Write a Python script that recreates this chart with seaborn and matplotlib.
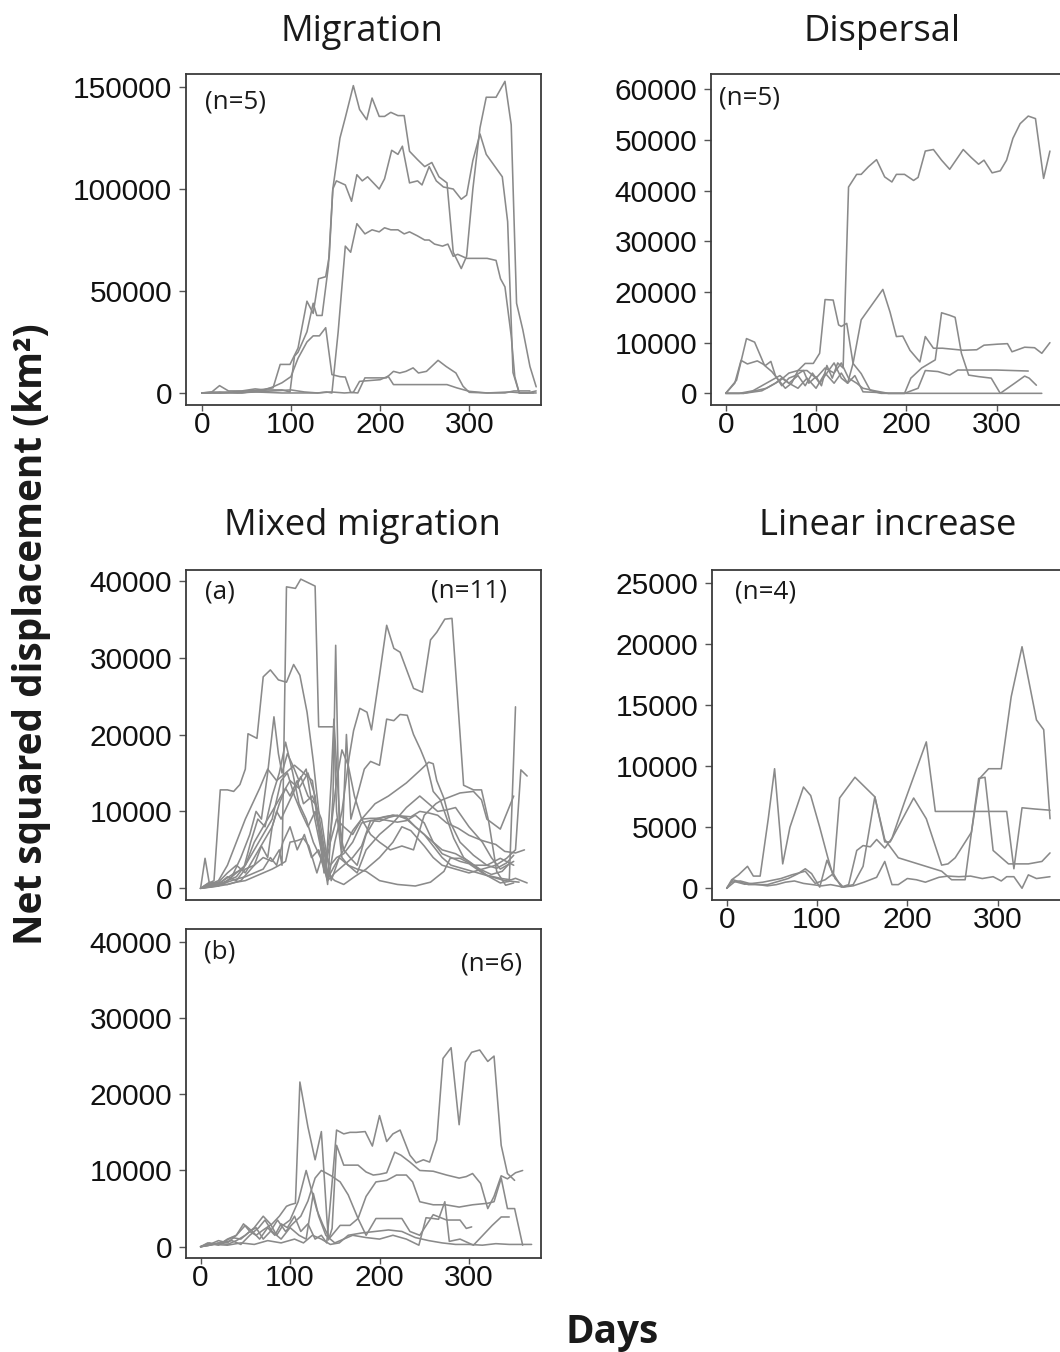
import matplotlib
matplotlib.use("Agg")
import matplotlib.pyplot as plt
import numpy as np
import pandas as pd
import seaborn as sns

# ---------------- data (days, NSD in thousands of km^2) ----------------
# Migration (n=5)
mig_1 = [(0,0),(10,0.5),(20,0),(35,0.5),(50,1),(65,1.5),(80,2.5),(88,14),(99,14),(108,22),(118,45),(125,39),(131,56),(139,57),(143,67),(147,100),(155,125),(161,135),(170,150.7),(177,139),(185,134),(191,144.6),(199,135.6),(205,135.6),(212,137.6),(220,136),(227,136),(233,118.5),(242,114.4),(250,111),(258,113),(266,106),(275,103),(282,69),(291,61),(297,67),(304,100),(312,130),(319,145),(330,145),(340,152.8),(347,131.5),(353,44),(360,31),(368,13),(375,3)]
mig_2 = [(0,0),(15,0),(30,0.3),(45,0),(60,1),(75,1.5),(90,1.5),(99,0.5),(104,18),(108,20),(118,30),(125,44),(129,38),(135,38),(142,62),(147,100),(151,104),(161,102),(168,94),(174,107),(180,104),(186,106),(199,100),(205,105),(213,119),(220,117),(225,121),(233,103),(242,104),(247,102),(255,111),(263,104),(271,101),(282,100),(291,95),(297,97),(304,114),(312,127),(319,117),(337,106),(343,84),(349,10),(356,0),(368,0),(375,0)]
mig_3 = [(0,0),(30,0),(60,0.5),(90,0),(110,0),(130,0),(140,0.5),(146,0),(153,30),(161,72),(167,69),(174,83),(183,78),(191,80),(199,79),(205,81),(212,80),(220,80),(227,78),(233,79),(242,77),(250,75),(255,75),(261,73),(270,72),(276,73),(282,67),(287,68),(297,66),(320,66),(330,65),(335,56),(340,52),(347,28),(351,8),(356,0),(365,0),(375,1)]
mig_4 = [(0,0),(10,0),(20,3.6),(30,1),(45,1),(60,2),(70,1.5),(80,3),(90,5),(100,8),(108,17),(118,25),(125,28),(132,28),(139,32),(146,9),(155,8),(161,7.8),(167,0.3),(175,0),(183,7.4),(207,7.4),(215,10.6),(222,9.8),(229,10.6),(237,12.3),(243,9.8),(252,10.6),(265,16),(274,13),(285,9.8),(293,3.3),(300,0.3),(320,0),(340,0),(350,1),(368,1)]
mig_5 = [(0,0),(20,0.5),(40,0),(60,0.5),(80,1),(100,1.5),(115,0.5),(130,0),(145,0.5),(160,0),(170,0.3),(177,5.7),(200,6.5),(209,8.2),(215,4.1),(240,4.1),(260,4.1),(275,4.1),(286,2.5),(300,0.8),(320,0),(345,0.5),(360,0),(372,0)]

# Dispersal (n=5)
dis_1 = [(0,0),(10,2),(17,6.5),(24,5.8),(35,6.4),(44,5.5),(50,6.3),(55,3.5),(62,1.5),(70,3),(77,3.5),(86,4.5),(92,2),(100,3.3),(106,1.5),(112,5.5),(118,3),(124,6),(130,5),(136,40.7),(145,43.2),(150,43.2),(158,44.7),(167,46.1),(176,42.7),(184,41.7),(189,43.2),(198,43.2),(208,42),(213,42.6),(221,47.8),(230,48.1),(239,46),(248,44.2),(263,48.1),(272,46.5),(280,45.2),(286,46),(295,43.5),(304,43.9),(311,46),(318,50.3),(326,53.2),(335,54.7),(343,54.2),(352,42.4),(359,47.8)]
dis_2 = [(0,0),(12,2.6),(23,10.8),(32,10.1),(43,5.5),(51,4.3),(60,2.3),(66,1),(73,2),(80,4.5),(88,5.9),(97,5.9),(104,7.9),(110,18.5),(119,18.4),(125,13.5),(128,13.2),(134,13.8),(141,5.9),(150,3.9),(160,0.6),(172,0),(190,0),(210,0),(240,0),(270,0),(300,0),(330,0),(350,0)]
dis_3 = [(0,0),(15,0),(30,0.5),(45,2),(60,3.5),(70,2),(80,1),(90,3),(100,1),(110,4),(120,2),(128,4),(135,2),(141,5.9),(150,14.5),(158,16.5),(168,19),(174,20.5),(182,16),(189,11.2),(196,11.3),(204,8.5),(215,6.2),(221,11.2),(230,8.9),(240,8.9),(263,8.5),(278,8.6),(286,9.5),(301,9.7),(312,9.8),(317,8.2),(331,9.1),(342,9),(350,7.9),(359,10)]
dis_4 = [(0,0),(20,0),(40,0.5),(55,2),(62,3),(70,2),(80,3.5),(88,1.5),(96,4),(104,2),(112,4),(120,6),(128,3),(135,2),(143,3.5),(152,0.3),(165,0.2),(180,0),(198,0),(205,3),(217,5),(232,6.6),(239,15.9),(248,15.4),(254,15),(261,7.9),(269,3.6),(280,3.3),(294,3),(304,0),(320,2),(331,3.4),(336,3),(344,1.6)]
dis_5 = [(0,0),(20,0),(45,1),(60,2.5),(70,4),(80,4.5),(90,4.5),(100,3),(110,5),(120,4),(128,6),(136,3),(145,2),(152,1),(165,0.5),(180,0),(198,0),(213,1),(221,4.5),(235,4.3),(248,3.6),(257,4.6),(272,4.6),(300,4.6),(335,4.4)]

# Mixed migration (a) (n=11)
mxa_1 = [(0,0),(7,0.5),(15,1),(22,12.8),(30,12.8),(37,12.6),(44,13.5),(50,15.5),(53,20.1),(63,19.5),(70,27.5),(78,28.4),(87,27.1),(96,26.8),(104,29.1),(111,27.7),(119,22.9),(126,16.5),(133,9),(140,3.9),(146,8),(152,14),(158,18),(165,16),(172,12),(180,9),(190,7),(200,6),(212,5),(225,5.5),(238,5),(250,9.5),(263,11),(270,11.5),(290,12.4),(305,12.6),(314,11.5),(320,9),(335,7.7),(350,12)]
mxa_2 = [(0,0),(10,0.8),(20,0.5),(30,1.5),(40,1),(50,2.5),(60,3),(70,4),(80,3.5),(88,5),(91,3),(96,39.2),(106,39),(112,40.2),(128,39.3),(132,21),(140,21),(149,21),(152,10),(158,4),(165,3),(175,2.5),(185,2.2),(200,1),(220,0.5),(240,0.3),(257,0.8),(272,2.2),(279,3.9),(290,3.9),(305,3),(320,1.7),(335,1.3),(347,1.1),(352,1.3),(365,0.7)]
mxa_3 = [(0,0),(5,3.9),(10,0.5),(20,0.3),(30,1),(40,2),(50,3),(60,6),(70,8),(80,10),(90,12),(100,14),(110,13),(120,15),(128,12),(135,5),(143,1.3),(150,6),(158,10),(166,17),(171,20.5),(178,23.4),(186,22.9),(191,20.6),(200,27.7),(208,34.2),(216,31.2),(223,30.7),(238,26),(248,25.5),(257,32.3),(264,33.3),(273,35),(281,35.1),(294,13.4),(305,12.8),(314,12.8),(322,8.7),(331,2.2),(341,0.4),(350,0.7)]
mxa_4 = [(0,0),(10,0.3),(20,0.5),(30,1),(40,1.5),(50,3),(60,5),(70,7),(80,9),(90,14),(97,15),(105,12),(112,10),(120,8),(128,10),(135,6),(142,0.5),(148,12),(151,31.6),(155,8),(160,5),(167,4),(175,3),(185,7),(195,9),(205,9.3),(215,9.5),(225,9.4),(235,9.3),(245,10),(255,9.8),(265,9.5),(275,8.5),(288,7.8),(300,6.9),(315,6.2),(330,5.7),(340,4.8),(352,4.6),(362,5.0)]
mxa_5 = [(0,0),(12,0.2),(25,0.5),(35,1.5),(45,4),(55,7),(62,10),(68,9),(75,15),(82,22.3),(87,17.5),(91,15),(97,17.5),(103,16),(110,14),(118,15.5),(126,10),(133,6),(140,2),(146,14),(149,22),(154,12),(158,5),(163,20),(168,9),(175,12),(183,15.5),(190,16.5),(200,16),(208,22),(216,21.8),(223,22.6),(231,22.5),(238,20),(246,18),(253,16),(260,12.6),(268,11.5),(283,6.5),(294,4),(305,3.0),(320,3),(335,3.9),(350,3)]
mxa_6 = [(0,0),(10,0.5),(20,1),(30,3),(40,6),(50,9),(58,11),(66,13),(75,15.5),(85,14),(95,15),(105,16),(115,15),(125,14),(132,8),(138,2),(145,6),(152,9),(160,8),(170,7),(180,9),(195,11),(210,12),(230,13.7),(245,15.3),(255,16.4),(260,16.2),(264,14),(272,11.7),(279,8.6),(290,6),(305,4.3),(320,3),(331,2.6),(342,3.3),(350,4.3)]
mxa_7 = [(0,0),(8,0.3),(18,0.5),(28,1.2),(38,2),(48,2.5),(56,6),(64,9),(72,8),(80,12),(88,15),(95,19),(103,15),(110,11),(118,9),(126,6),(134,4),(142,1),(150,2),(160,3),(170,4),(180,5.5),(190,8.8),(200,9),(210,8.8),(220,8.6),(230,8.8),(240,9.5),(250,8.5),(260,6),(270,4.5),(280,4),(290,3.5),(300,3.2),(315,2),(335,0.7),(345,0.9),(352,23.6)]
mxa_8 = [(0,0),(10,0.2),(20,0.4),(30,0.8),(40,1.2),(50,1.5),(60,2),(70,2.5),(78,4),(85,3),(92,6),(100,8),(108,5),(116,7),(124,4),(132,5),(140,2),(150,1),(160,0.5),(172,1.5),(185,2.5),(200,4),(215,6),(225,8),(235,7.5),(250,5.5),(260,4),(270,3),(285,2.5),(300,2),(315,2.5),(330,3),(342,3.9),(352,5),(358,15.4),(365,14.6)]
mxa_9 = [(0,0),(10,0.5),(20,0.8),(30,2),(40,3),(50,2),(60,4),(70,6),(80,8),(85,10),(90,9),(98,11),(106,13),(112,14.5),(120,12),(128,11),(136,6),(143,1.5),(150,3),(160,5),(170,7.5),(180,9),(190,9.1),(200,9.1),(215,9.5),(230,9.2),(240,8),(250,7),(260,5.5),(270,4),(280,3),(295,2.5),(310,2),(325,1.5),(340,1),(356,0.8)]
mxa_10 = [(0,0),(10,0.3),(20,0.6),(30,0.5),(40,0.8),(50,1),(60,1.5),(70,2),(80,2.5),(88,3),(95,3.5),(100,6),(108,6.2),(115,6.5),(121,5.5),(130,2),(138,5),(145,3),(152,4),(160,4.5),(170,6),(180,8.5),(190,8.8),(200,8.7),(210,9.2),(220,9.5),(230,9),(240,8),(250,7),(260,6),(270,5),(285,4.5),(300,3.5),(312,2.5),(325,1.8),(337,2.2),(345,3.2)]
mxa_11 = [(0,0),(15,0.2),(30,0.5),(45,1),(60,3),(68,5.5),(75,4),(80,8),(88,11),(95,13),(100,12),(108,14),(115,11),(125,12),(135,9),(140,5),(146,1),(155,4),(165,3),(175,2),(185,5),(200,7),(215,8.5),(230,10.5),(245,12),(255,11),(265,10),(275,10.2),(285,10.5),(300,8),(315,6),(325,4),(335,2.5),(350,3.5)]

# Mixed migration (b) (n=6)
mxb_1 = [(0,0),(10,0.3),(20,0.8),(30,0.5),(40,1.5),(50,2.8),(58,2),(66,1),(75,2.5),(83,1.5),(90,3),(97,2.5),(105,4),(112,2),(120,3),(128,1),(135,1.5),(141,0.5),(146,7),(152,15.3),(160,14.8),(167,15),(174,15),(184,15.1),(192,13.2),(200,17.2),(208,13.8),(215,14.8),(223,15.3),(234,12),(241,11),(249,11.4),(256,11.1),(264,14),(271,24.7),(280,26.1),(289,16),(296,24.2),(303,25.5),(312,25.8),(321,24.3),(328,25),(336,13.3),(343,9.6),(351,8.7)]
mxb_2 = [(0,0),(8,0.5),(15,0.3),(25,0.6),(35,1.2),(45,1),(55,2),(62,1.5),(70,2.2),(80,3),(88,4),(96,5.3),(100,5.5),(106,5.7),(111,21.6),(120,15.7),(128,11.4),(135,15.1),(141,4),(143,0.9),(147,2.4),(152,13.3),(160,10.7),(167,10.7),(176,10.7),(185,9.8),(193,9.4),(200,9.5),(208,9.7),(217,12.4),(224,12),(234,11.1),(245,10),(260,9.9),(275,9.4),(289,9),(297,9.2),(304,9.6),(313,8.3),(321,5),(328,6.6),(336,9.3),(343,8.9),(352,9.7),(360,10)]
mxb_3 = [(0,0),(10,0.2),(20,0.5),(30,0.3),(40,0.8),(50,1.5),(60,2.5),(70,4),(78,3),(85,1.5),(92,2.8),(100,3.5),(109,5.9),(118,10),(130,4.8),(137,2.8),(144,1.1),(156,2.8),(167,2.8),(176,3.7),(185,6.6),(196,8.5),(208,8.7),(219,9.4),(230,9.4),(237,8.5),(245,5.9),(260,5.5),(274,5.5),(289,5.2),(304,5.5),(321,5.7),(328,5.9),(336,9),(343,5),(351,5),(360,0.2)]
mxb_4 = [(0,0),(10,0.5),(20,0.2),(30,1),(40,1.5),(48,3),(55,2),(62,2.5),(70,1),(78,2),(86,3.5),(95,2),(103,3),(112,4),(120,6),(128,9),(135,10),(146,9.3),(156,8.5),(165,6.8),(176,3.7),(185,1.5),(196,3.7),(225,3.7),(234,2),(245,1.5),(260,4.2),(275,3.5),(290,3.5),(297,2.4),(303,2.6)]
mxb_5 = [(0,0),(10,0.2),(22,0.5),(35,0.8),(45,0.3),(55,1.5),(65,2.5),(72,3.5),(80,2),(90,1),(100,2.5),(110,1.5),(118,1),(126,7),(132,4),(140,1.5),(150,0.5),(160,1),(170,1.5),(185,1.2),(200,1),(215,1.5),(230,1),(244,0.2),(252,3.8),(260,3.7),(266,3.6),(273,5.9),(278,0.7),(290,1),(305,0.2),(326,2.8),(336,3.9),(345,3.9)]
mxb_6 = [(0,0),(15,0.3),(30,0.2),(45,0.5),(60,0.3),(75,0.8),(90,0.5),(105,1),(115,0.5),(125,1.5),(135,1),(145,0.3),(155,0.5),(165,1.5),(180,1.8),(195,2),(210,2.2),(225,2),(240,1.2),(255,0.8),(270,0.5),(285,0.3),(300,0.3),(315,0.2),(330,0.4),(345,0.3),(360,0.3),(370,0.3)]

# Linear increase (n=4)
lin_1 = [(0,0),(5.5,0.7),(13,1.1),(23,1.8),(29.5,1),(37,1),(46,5.7),(53,9.8),(62,2),(70,5),(85,8.3),(93,7.6),(103,5),(112,2.5),(118,1),(125,7.4),(142,9.1),(164,7.5),(175,4),(190,2.5),(238,1.4),(249,0.7),(264,0.7),(271,4.6),(279,9),(286,9.1),(295,3.1),(312,2),(334,2),(349,2.2),(358,2.9)]
lin_2 = [(0,0),(7,0.7),(24,0.3),(45,0.3),(68,0.8),(79,1.2),(87,1.6),(94,1.2),(103,0.1),(111,2.3),(120,0.8),(129,0.1),(140,0.3),(151,1.8),(164,7.5),(175,3.8),(181,3.8),(207,7.4),(221,5.7),(238,1.9),(245,2),(253,2.5),(271,4.6),(280,9),(290,9.8),(304,9.8),(315,15.7),(327,19.8),(343,13.8),(351,13),(358,5.7)]
lin_3 = [(0,0),(9,0.55),(20,0.33),(40,0.5),(60,0.8),(72,1.1),(87,1.4),(98,0.4),(109,0.7),(118,1.2),(127,0.1),(135,0.3),(144,3.1),(151,3.5),(159,3.4),(166,4),(175,3.3),(183,4.1),(197,7.1),(221,12),(231,6.3),(257,6.3),(285,6.3),(310,6.3),(318,1.6),(327,6.6),(341,6.5),(358,6.4)]
lin_4 = [(0,0),(5,0.5),(15,0.6),(25,0.4),(35,0.3),(45,0.2),(55,0.3),(65,0.5),(75,0.6),(85,0.4),(95,0.3),(105,0.2),(115,0.3),(129,0.1),(140,0.2),(152,0.5),(166,0.9),(175,2.2),(183,0.3),(190,0.3),(200,0.8),(210,0.7),(220,0.5),(235,0.9),(245,1),(257,0.95),(270,1),(283,0.8),(295,0.95),(304,0.6),(310,0.95),(318,0.95),(327,0),(334,1.1),(343,0.8),(358,0.95)]

panels = {
    "migration": [mig_1, mig_2, mig_3, mig_4, mig_5],
    "dispersal": [dis_1, dis_2, dis_3, dis_4, dis_5],
    "mixed_a": [mxa_1, mxa_2, mxa_3, mxa_4, mxa_5, mxa_6, mxa_7, mxa_8, mxa_9, mxa_10, mxa_11],
    "mixed_b": [mxb_1, mxb_2, mxb_3, mxb_4, mxb_5, mxb_6],
    "linear": [lin_1, lin_2, lin_3, lin_4],
}

rows = []
for pname, tracks in panels.items():
    for i, tr in enumerate(tracks):
        for d, v in tr:
            rows.append((pname, f"{pname}_{i}", d, v * 1000.0))
df = pd.DataFrame(rows, columns=["panel", "track", "day", "nsd"])

# ---------------- style ----------------
sns.set_style("white")
plt.rcParams["font.family"] = ["Liberation Sans", "DejaVu Sans"]

W, H = 1060, 1352
fig = plt.figure(figsize=(W / 100, H / 100), dpi=100)

def ax_at(l, t, r, b):
    return fig.add_axes([l / W, 1 - b / H, (r - l) / W, (b - t) / H])

LINE = "#8a8a8a"
SPINE = "#3a3a3a"

specs = {
    "migration": ((186, 74, 541, 405), (-17.6, 380.4), (-5900, 156400), [0, 50000, 100000, 150000], True),
    "dispersal": ((711, 74, 1066, 405), (-16.3, 376.8), (-2300, 63000), list(range(0, 60001, 10000)), True),
    "mixed_a": ((186, 570, 541, 900), (-16.3, 380.5), (-1520, 41390), list(range(0, 40001, 10000)), False),
    "linear": ((712, 570, 1067, 900), (-16.3, 376.8), (-960, 26090), list(range(0, 25001, 5000)), True),
    "mixed_b": ((186, 929, 541, 1258), (-16.3, 380.5), (-1480, 41670), list(range(0, 40001, 10000)), True),
}

for name, (box, xl, yl, yt, showx) in specs.items():
    ax = ax_at(*box)
    sub = df[df["panel"] == name]
    sns.lineplot(data=sub, x="day", y="nsd", units="track", estimator=None,
                 color=LINE, linewidth=1.15, sort=False, legend=False, ax=ax)
    ax.set_xlim(*xl)
    ax.set_ylim(*yl)
    ax.set_yticks(yt)
    ax.set_yticklabels([str(v) for v in yt])
    ax.set_xlabel("")
    ax.set_ylabel("")
    for s in ax.spines.values():
        s.set_color(SPINE)
        s.set_linewidth(1.3)
    ax.tick_params(axis="y", direction="out", length=5, width=1, color="#555555",
                   labelsize=21.5, pad=5, left=True, labelcolor="#111111")
    if showx:
        ax.set_xticks([0, 100, 200, 300])
        ax.set_xticklabels(["0", "100", "200", "300"])
        ax.tick_params(axis="x", direction="out", length=4, width=1, color="#555555",
                       labelsize=21.5, pad=0.5, bottom=True, labelcolor="#111111")
    else:
        ax.set_xticks([])

# ---------------- texts ----------------
renderer = fig.canvas.get_renderer()

def ftext(x, y, s, target, size=20, weight="normal", rotation=0, va="baseline", axis="w"):
    t = fig.text(x / W, 1 - y / H, s, ha="center", va=va, fontsize=size,
                 fontweight=weight, rotation=rotation, color="#1a1a1a",
                 family=["Open Sans", "DejaVu Sans"])
    if target:
        bb = t.get_window_extent(renderer)
        cur = bb.width if axis == "w" else bb.height
        t.set_fontsize(size * target / cur)
    return t

t1 = ftext(361.5, 41, "Migration", 163)
fs_title = t1.get_fontsize()
ftext(882.5, 41, "Dispersal", None, size=fs_title)
ftext(362, 535, "Mixed migration", None, size=fs_title)
ftext(888, 535, "Linear increase", None, size=fs_title)

n1 = ftext(235, 102, "(n=5)", 61, va="center")
fs_n = n1.get_fontsize()
ftext(749, 98, "(n=5)", None, size=fs_n, va="center")
ftext(220, 592, "(a)", None, size=fs_n, va="center")
ftext(469, 591, "(n=11)", None, size=fs_n, va="center")
ftext(766, 592, "(n=4)", None, size=fs_n, va="center")
ftext(220, 952, "(b)", None, size=fs_n, va="center")
ftext(492, 964, "(n=6)", None, size=fs_n, va="center")

ftext(32, 634, "Net squared displacement (km²)", 623, weight="bold", rotation=90,
      va="center", axis="h")
ftext(612, 1343, "Days", 93, weight="bold")

fig.savefig("out.png", dpi=100)
